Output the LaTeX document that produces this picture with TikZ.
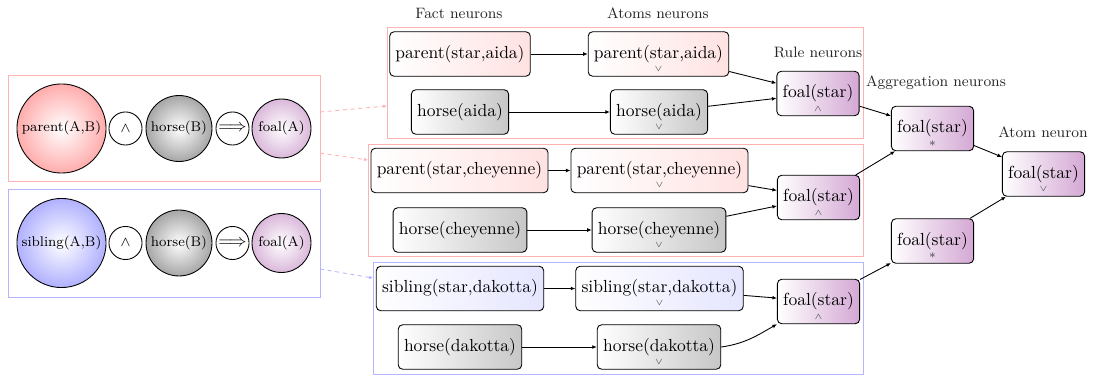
\documentclass[tikz,border=0pt]{standalone}
\usetikzlibrary{arrows.meta,calc}
\definecolor{boxred}{RGB}{255,178,178}
\definecolor{boxblue}{RGB}{180,180,255}
\definecolor{fred}{RGB}{255,226,226}
\definecolor{fblue}{RGB}{229,229,255}
\definecolor{fgray}{RGB}{199,199,199}
\definecolor{fvio}{RGB}{212,168,212}
\definecolor{cred}{RGB}{255,172,172}
\definecolor{cblue}{RGB}{176,176,255}
\definecolor{cgray}{RGB}{166,166,166}
\definecolor{cvio}{RGB}{218,184,218}
\begin{document}
\begin{tikzpicture}[x=0.5714pt,y=-0.5714pt,
  nrn/.style={draw, rounded corners=2.5pt, line width=0.5pt, minimum height=25.4pt, inner sep=3.3pt},
  redf/.style={nrn, left color=white, right color=fred},
  grayf/.style={nrn, left color=white, right color=fgray},
  bluef/.style={nrn, left color=white, right color=fblue},
  vio/.style={nrn, left color=white, right color=fvio, minimum width=46.3pt},
  sym/.style={font=\tiny, inner sep=0pt, text=black!75},
  agsym/.style={font=\scriptsize, inner sep=0pt, text=black!75},
  lab/.style={font=\fontsize{8.6}{10}\selectfont, text=black!85},
  edge/.style={-{Latex[length=2.6pt,width=2.2pt]}, line width=0.5pt},
  circ/.style={circle, draw, line width=0.5pt, inner sep=0pt, font=\footnotesize},
  opc/.style={circ, minimum size=18.9pt},
  dashr/.style={draw=boxred, line width=0.5pt, dash pattern=on 2.2pt off 2.2pt, -{Latex[length=2.2pt,width=2pt]}},
  dashb/.style={draw=boxblue, line width=0.5pt, dash pattern=on 2.2pt off 2.2pt, -{Latex[length=2.2pt,width=2pt]}},
  grp/.style={line width=0.5pt}
]
\useasboundingbox (0,0) rectangle (1098,376);

% ---- group boxes (drawn first) ----
\draw[grp, boxred] (8,75) rectangle (320,181);
\draw[grp, boxblue] (8,189) rectangle (320,297);
\draw[grp, boxred] (387,27) rectangle (863,138);
\draw[grp, boxred] (368,144) rectangle (863,256);
\draw[grp, boxblue] (373,262) rectangle (863,374);

% dashed links
\coordinate (d1s) at (320,112); \coordinate (d1e) at (387,106);
\coordinate (d2s) at (320,153); \coordinate (d2e) at (368,160);
\coordinate (d3s) at (320,269); \coordinate (d3e) at (373,278);
\draw[dashr] (d1s) -- (d1e);
\draw[dashr] (d2s) -- (d2e);
\draw[dashb] (d3s) -- (d3e);

% ---- labels ----
\node[lab] (Lfact) at (459,13) {Fact neurons};
\node[lab] (Latom) at (658,13) {Atoms neurons};
\node[lab] (Lrule) at (818,52) {Rule neurons};
\node[lab] (Lagg) at (936,83) {Aggregation neurons};
\node[lab] (Lat) at (1043,132) {Atom neuron};

% ---- left panel ----
\node[circ, minimum size=50.9pt, inner color=white, outer color=cred] (pAB) at (61.5,128.5) {parent(A,B)};
\node[opc] (and1) at (125.5,128.5) {$\wedge$};
\node[circ, minimum size=37.7pt, inner color=white, outer color=cgray] (hB1) at (179,128.5) {horse(B)};
\node[opc, font=\normalsize] (imp1) at (232.5,128.5) {$\Longrightarrow$};
\node[circ, minimum size=33.7pt, inner color=white, outer color=cvio] (fA1) at (281.5,128.5) {foal(A)};

\node[circ, minimum size=50.9pt, inner color=white, outer color=cblue] (sAB) at (61.5,243) {sibling(A,B)};
\node[opc] (and2) at (125.5,243) {$\wedge$};
\node[circ, minimum size=37.7pt, inner color=white, outer color=cgray] (hB2) at (179,243) {horse(B)};
\node[opc, font=\normalsize] (imp2) at (232.5,243) {$\Longrightarrow$};
\node[circ, minimum size=33.7pt, inner color=white, outer color=cvio] (fA2) at (281.5,243) {foal(A)};

% ---- group 1 ----
\node[redf] (f1) at (460,54) {parent(star,aida)};
\node[redf] (a1) at (658.5,54) {parent(star,aida)};
\node[grayf] (f2) at (460,112) {horse(aida)};
\node[grayf] (a2) at (659,112) {horse(aida)};
\node[vio] (r1) at (818,93.5) {foal(star)};

% ---- group 2 ----
\node[redf] (f3) at (459.5,170.5) {parent(star,cheyenne)};
\node[redf] (a3) at (659.5,170.5) {parent(star,cheyenne)};
\node[grayf] (f4) at (460,230) {horse(cheyenne)};
\node[grayf] (a4) at (659,230) {horse(cheyenne)};
\node[vio] (r2) at (818.5,197.5) {foal(star)};

% ---- group 3 ----
\node[bluef] (f5) at (460,288.5) {sibling(star,dakotta)};
\node[bluef] (a5) at (659.5,288.5) {sibling(star,dakotta)};
\node[grayf] (f6) at (460,347) {horse(dakotta)};
\node[grayf] (a6) at (659,347) {horse(dakotta)};
\node[vio] (r3) at (818.5,301.5) {foal(star)};

% ---- aggregation and atom ----
\node[vio] (g1) at (932.5,128.5) {foal(star)};
\node[vio] (g2) at (932.5,241) {foal(star)};
\node[vio] (t1) at (1043.5,174) {foal(star)};

% symbols
\foreach \n in {a1,a2,a3,a4,a5,a6,t1} \node[sym] (\n v) at ([yshift=4.6pt]\n.south) {$\vee$};
\foreach \n in {r1,r2,r3} \node[sym] (\n w) at ([yshift=4.2pt]\n.south) {$\wedge$};
\foreach \n in {g1,g2} \node[agsym] (\n s) at ([yshift=4.4pt]\n.south) {$*$};

% ---- edges ----
\draw[edge] (f1) -- (a1);
\draw[edge] (f2) -- (a2);
\draw[edge] (f3) -- (a3);
\draw[edge] (f4) -- (a4);
\draw[edge] (f5) -- (a5);
\draw[edge] (f6) -- (a6);
\draw[edge] (a1) -- (r1);
\draw[edge] (a2) -- (r1);
\draw[edge] (a3) -- (r2);
\draw[edge] (a4) -- (r2);
\draw[edge] (a5) -- (r3);
\draw[edge] (a6.east) to[out=8,in=210] (r3.south west);
\draw[edge] (r1) -- (g1);
\draw[edge] (r2) -- (g1);
\draw[edge] (r3) -- (g2);
\draw[edge] (g1) -- (t1);
\draw[edge] (g2) -- (t1);
\end{tikzpicture}
\end{document}
